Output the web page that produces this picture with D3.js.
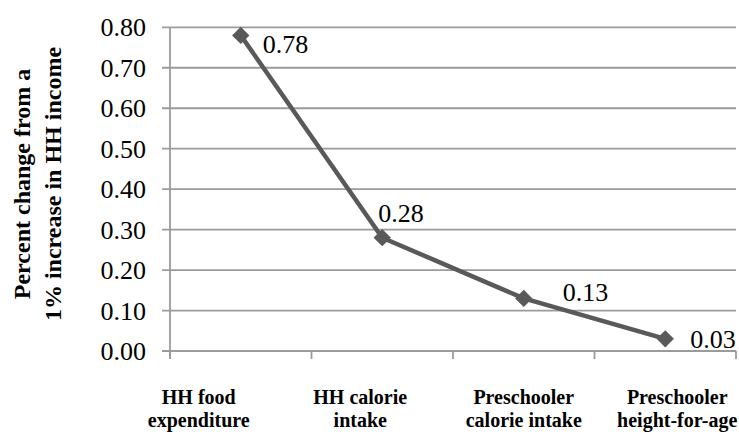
<!DOCTYPE html>
<html>
<head>
<meta charset="utf-8">
<script src="https://cdn.jsdelivr.net/npm/d3@7"></script>
<style>
  html, body { margin: 0; padding: 0; background: #ffffff; }
  svg { display: block; }
</style>
</head>
<body>
<svg id="chart" width="739" height="432"></svg>
<script>
// Income elasticities along the food-to-nutrition chain
const categories = [
  ["HH food", "expenditure"],
  ["HH calorie", "intake"],
  ["Preschooler", "calorie intake"],
  ["Preschooler", "height-for-age"]
];
const values = [0.78, 0.28, 0.13, 0.03];
const valueLabels = ["0.78", "0.28", "0.13", "0.03"];
const yTicks = [0, 0.1, 0.2, 0.3, 0.4, 0.5, 0.6, 0.7, 0.8];
const yTitle = ["Percent change from a", "1% increase in HH income"];

const FONT = "'Liberation Serif', 'Times New Roman', 'DejaVu Serif', serif";

const svg = d3.select("#chart");
const plot = { left: 170, right: 736, top: 27.3, bottom: 351 };

const keys = categories.map((c, i) => "c" + i);
const x = d3.scaleBand().domain(keys).range([plot.left, plot.right]).paddingInner(0).paddingOuter(0);
const y = d3.scaleLinear().domain([0, 0.8]).range([plot.bottom, plot.top]);

const gridColor = "#9b9b9b";

// horizontal gridlines, extending past the axis as tick marks
svg.append("g").selectAll("line").data(yTicks).join("line")
  .attr("x1", plot.left - 8).attr("x2", plot.right)
  .attr("y1", d => y(d)).attr("y2", d => y(d))
  .attr("stroke", gridColor).attr("stroke-width", 1.8);

// y tick labels
svg.append("g").selectAll("text").data(yTicks).join("text")
  .attr("x", 146).attr("y", d => y(d) + 9)
  .attr("text-anchor", "end")
  .attr("font-family", FONT).attr("font-size", 26).attr("fill", "#000")
  .text(d => d3.format(".2f")(d));

// vertical axis line
svg.append("line")
  .attr("x1", plot.left).attr("x2", plot.left)
  .attr("y1", plot.top).attr("y2", plot.bottom + 8)
  .attr("stroke", gridColor).attr("stroke-width", 1.8);

// category boundary ticks below the baseline
const bounds = keys.map(k => x(k)).concat([plot.right]);
svg.append("g").selectAll("line").data(bounds).join("line")
  .attr("x1", d => d).attr("x2", d => d)
  .attr("y1", plot.bottom).attr("y2", plot.bottom + 8)
  .attr("stroke", gridColor).attr("stroke-width", 1.8);

// category labels (two lines each, bold)
const catShift = [-42, -22, 0, 12];
const catG = svg.append("g");
categories.forEach((lines, i) => {
  const cx = x(keys[i]) + x.bandwidth() / 2 + catShift[i];
  const t = catG.append("text")
    .attr("text-anchor", "middle")
    .attr("font-family", FONT).attr("font-size", 20).attr("font-weight", "bold").attr("fill", "#000");
  lines.forEach((ln, j) => {
    t.append("tspan").attr("x", cx).attr("y", 404 + j * 23).text(ln);
  });
});

// y axis title, rotated
const titleG = svg.append("g").attr("transform", "translate(0,184) rotate(-90)");
yTitle.forEach((ln, j) => {
  titleG.append("text")
    .attr("x", 0).attr("y", 30 + j * 31)
    .attr("text-anchor", "middle")
    .attr("font-family", FONT).attr("font-size", 24).attr("font-weight", "bold").attr("fill", "#000")
    .text(ln);
});

// series line
const pts = values.map((v, i) => [x(keys[i]) + x.bandwidth() / 2, y(v)]);
svg.append("path")
  .attr("d", d3.line()(pts))
  .attr("fill", "none").attr("stroke", "#595959")
  .attr("stroke-width", 4.5).attr("stroke-linejoin", "round");

// diamond markers
const diamond = d3.symbol().type(d3.symbolSquare).size(150);
svg.append("g").selectAll("path").data(pts).join("path")
  .attr("d", diamond)
  .attr("transform", d => `translate(${d[0]},${d[1]}) rotate(45)`)
  .attr("fill", "#595959");

// value labels, each nudged clear of the line
const labelNudge = [[22, 18], [-4, -16], [39, 3], [25, 9]];
svg.append("g").selectAll("text").data(pts).join("text")
  .attr("x", (d, i) => d[0] + labelNudge[i][0])
  .attr("y", (d, i) => d[1] + labelNudge[i][1])
  .attr("font-family", FONT).attr("font-size", 26).attr("fill", "#000")
  .text((d, i) => valueLabels[i]);
</script>
</body>
</html>
